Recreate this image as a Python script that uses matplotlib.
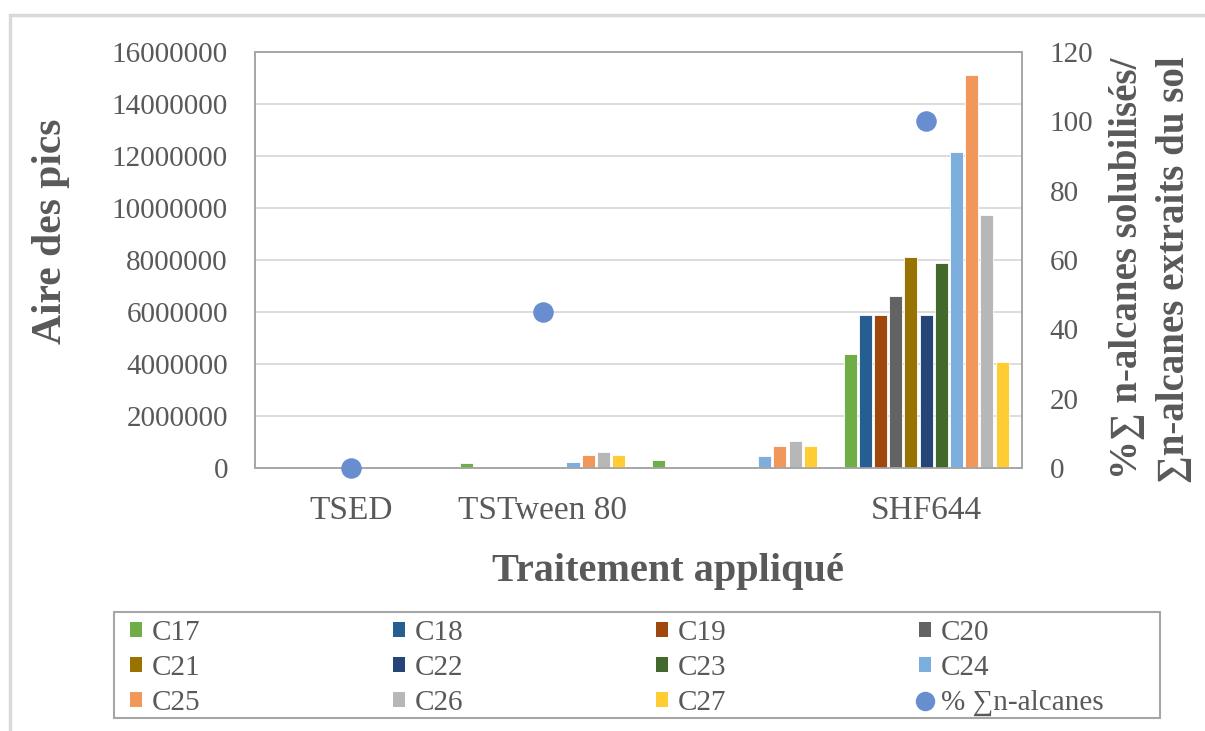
import numpy as np
import matplotlib
matplotlib.use("Agg")
import matplotlib.pyplot as plt
from matplotlib.patches import Rectangle
from matplotlib.lines import Line2D

# ---------------- data ----------------
categories = ["TSED", "TSTween 80", "", "SHF644"]
series_names = ["C17", "C18", "C19", "C20", "C21", "C22", "C23", "C24", "C25", "C26", "C27"]
C17 = [0, 200000, 300000, 4400000]
C18 = [0, 0, 0, 5900000]
C19 = [0, 0, 0, 5900000]
C20 = [0, 0, 0, 6630000]
C21 = [0, 0, 0, 8130000]
C22 = [0, 0, 0, 5900000]
C23 = [0, 0, 0, 7870000]
C24 = [0, 250000, 480000, 12140000]
C25 = [0, 500000, 850000, 15100000]
C26 = [0, 620000, 1040000, 9730000]
C27 = [0, 500000, 850000, 4090000]
pct_alcanes = [0, 45, np.nan, 100]
series_values = [C17, C18, C19, C20, C21, C22, C23, C24, C25, C26, C27]
series_colors = ["#70AD47", "#255E91", "#9E480E", "#636363", "#997300", "#264478",
                 "#43682B", "#7CAFDD", "#F1975A", "#B7B7B7", "#FFCD33"]
pct_color = "#698ED0"
pct_label = "% \u2211n-alcanes"
left_ticks = [0, 2000000, 4000000, 6000000, 8000000, 10000000, 12000000, 14000000, 16000000]
right_ticks = [0, 20, 40, 60, 80, 100, 120]

# ---------------- style ----------------
SERIF = ["Liberation Serif", "DejaVu Serif"]
plt.rcParams["font.family"] = SERIF
TXT = "#595959"

W, H = 1205, 731
fig = plt.figure(figsize=(W / 100, H / 100), dpi=100)

def fx(px):
    return px / W

def fy(py):
    return 1 - py / H

# outer chart border
fig.patches.append(Rectangle((fx(10), fy(740)), fx(1210) - fx(10), fy(15) - fy(740),
                             transform=fig.transFigure, fill=False,
                             edgecolor="#D9D9D9", linewidth=2.5, zorder=0))

L, R, T, B = 255, 1022, 52, 468
ax = fig.add_axes([fx(L), fy(B), fx(R) - fx(L), fy(T) - fy(B)])
ax2 = ax.twinx()

x = np.arange(len(categories))
n = len(series_names)
slot = 0.0792
bw = slot * 0.86
for i, (vals, col) in enumerate(zip(series_values, series_colors)):
    offs = (i - (n - 1) / 2) * slot
    ax.bar(x + offs, vals, width=bw, color=col, edgecolor="white",
           linewidth=0.6, zorder=3, label=series_names[i])

ax.set_xlim(-0.5, len(categories) - 0.5)
ax.set_ylim(0, 16000000)
ax.set_yticks(left_ticks)
ax.set_yticklabels([str(v) for v in left_ticks])
ax.set_xticks(x)
ax.set_xticklabels(categories)
ax.yaxis.grid(True, color="#D9D9D9", linewidth=1.3, zorder=0)
ax.set_axisbelow(True)
ax.tick_params(axis="both", length=0, colors=TXT)
ax.tick_params(axis="y", pad=19.5, labelsize=21)
ax.tick_params(axis="x", pad=20, labelsize=24)
for sp in ax.spines.values():
    sp.set_color("#A6A6A6")
    sp.set_linewidth(1.2)

ax2.scatter(x, pct_alcanes, s=190, color=pct_color, zorder=5, clip_on=False,
            label=pct_label)
ax2.set_ylim(0, 120)
ax2.set_yticks(right_ticks)
ax2.tick_params(axis="y", length=0, colors=TXT, labelsize=21, pad=20)
for sp in ax2.spines.values():
    sp.set_color("#A6A6A6")
    sp.set_linewidth(1.2)

# axis titles
fig.text(fx(51), fy(231), "Aire des pics", rotation=90, ha="center", va="center",
         fontsize=30, fontweight="bold", color=TXT)
fig.text(fx(668), fy(572), "Traitement appliqué", ha="center", va="center",
         fontsize=29, fontweight="bold", color=TXT)
fig.text(fx(1127), fy(268), "%\u2211 n-alcanes solubilisés/", rotation=90,
         ha="center", va="center", fontsize=28, fontweight="bold", color=TXT)
fig.text(fx(1174), fy(270), "\u2211n-alcanes extraits du sol", rotation=90,
         ha="center", va="center", fontsize=28, fontweight="bold", color=TXT)

# legend frame
fig.patches.append(Rectangle((fx(114), fy(718)), fx(1160) - fx(114), fy(612) - fy(718),
                             transform=fig.transFigure, fill=False,
                             edgecolor="#A6A6A6", linewidth=1.5, zorder=1))

# legend (row-major order like Excel)
bar_handles = [Rectangle((0, 0), 1, 1, facecolor=c, edgecolor="none") for c in series_colors]
pct_handle = Line2D([], [], marker="o", linestyle="none", markersize=13,
                    markerfacecolor=pct_color, markeredgecolor=pct_color)
handles = bar_handles + [pct_handle]
labels = series_names + [pct_label]
ncol, nrow = 4, 3
order = [r * ncol + c for c in range(ncol) for r in range(nrow)]
leg = fig.legend([handles[k] for k in order], [labels[k] for k in order],
                 ncol=ncol, loc="upper left",
                 bbox_to_anchor=(fx(130), fy(620)),
                 frameon=False, fontsize=21,
                 handlelength=0.4, handleheight=0.4, handletextpad=0.35,
                 columnspacing=6.6, borderpad=0, labelspacing=0.31, borderaxespad=0)
for t in leg.get_texts():
    t.set_color(TXT)

fig.savefig("out.png", dpi=100, facecolor="white")
